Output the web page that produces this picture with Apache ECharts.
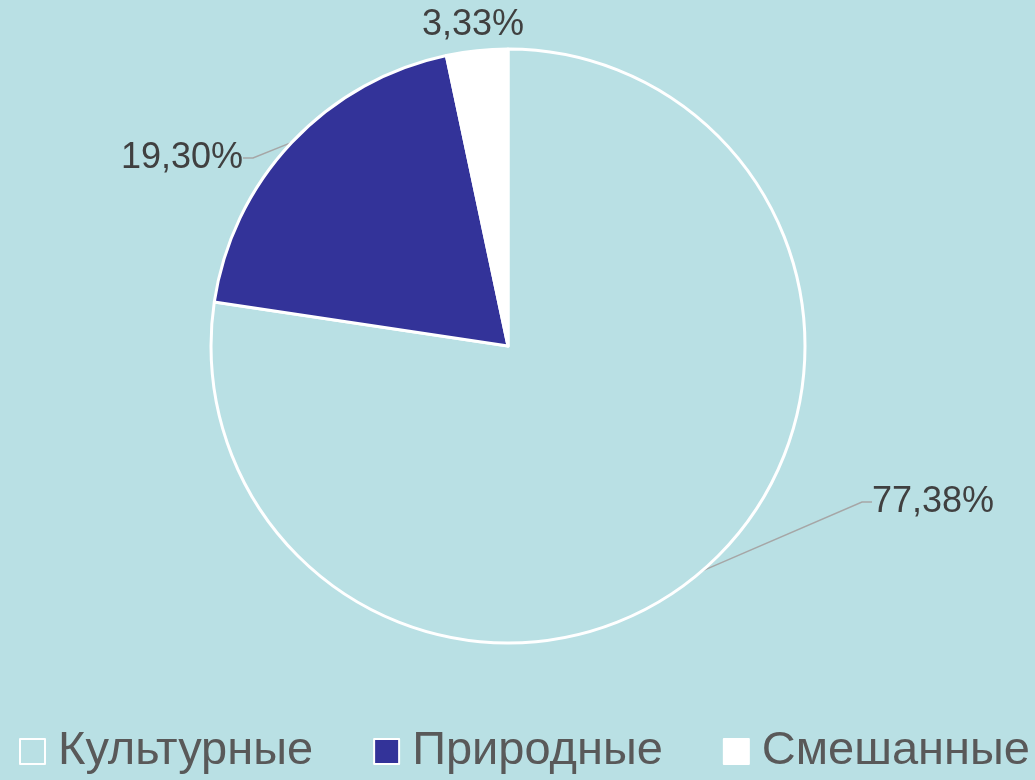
<!DOCTYPE html>
<html>
<head>
<meta charset="utf-8">
<script src="https://cdn.jsdelivr.net/npm/echarts@6/dist/echarts.min.js"></script>
<style>
  html, body { margin: 0; padding: 0; background: #B9E0E4; }
  #chart { width: 1035px; height: 780px; }
</style>
</head>
<body>
<div id="chart"></div>
<script>
const categories = ['Культурные', 'Природные', 'Смешанные']
const shares = [77.38, 19.30, 3.33]
const sliceColors = ['#B9E0E4', '#333399', '#FFFFFF']

// label anchor points (Excel places them by hand)
const labelSpots = [
  { x: 872, y: 502, align: 'left' },
  { x: 243, y: 158, align: 'right' },
  { x: 473, y: 25, align: 'center' }
]

const chart = echarts.init(document.getElementById('chart'))
chart.setOption({
  backgroundColor: '#B9E0E4',
  animation: false,
  legend: {
    bottom: 0,
    left: 14,
    itemWidth: 25,
    itemHeight: 25,
    itemGap: 60,
    icon: 'rect',
    data: categories,
    textStyle: {
      color: '#595959',
      fontSize: 47,
      fontFamily: 'Liberation Sans',
      padding: [0, 0, 0, 8]
    }
  },
  series: [
    {
      type: 'pie',
      center: [508, 346],
      radius: 297,
      startAngle: 90,
      clockwise: true,
      avoidLabelOverlap: false,
      itemStyle: {
        borderColor: '#FFFFFF',
        borderWidth: 3
      },
      label: {
        show: true,
        position: 'outside',
        color: '#404040',
        fontSize: 36,
        fontFamily: 'Liberation Sans',
        formatter: p => p.value.toFixed(2).replace('.', ',') + '%'
      },
      labelLine: {
        show: true,
        length: 20,
        length2: 10,
        lineStyle: { color: '#A6A6A6', width: 1.5 }
      },
      labelLayout: p => ({
        x: labelSpots[p.dataIndex].x,
        y: labelSpots[p.dataIndex].y,
        align: labelSpots[p.dataIndex].align,
        verticalAlign: 'middle'
      }),
      data: categories.map((name, i) => ({
        name: name,
        value: shares[i],
        itemStyle: { color: sliceColors[i] },
        labelLine: { show: i !== 2 }
      }))
    }
  ]
})
</script>
</body>
</html>
